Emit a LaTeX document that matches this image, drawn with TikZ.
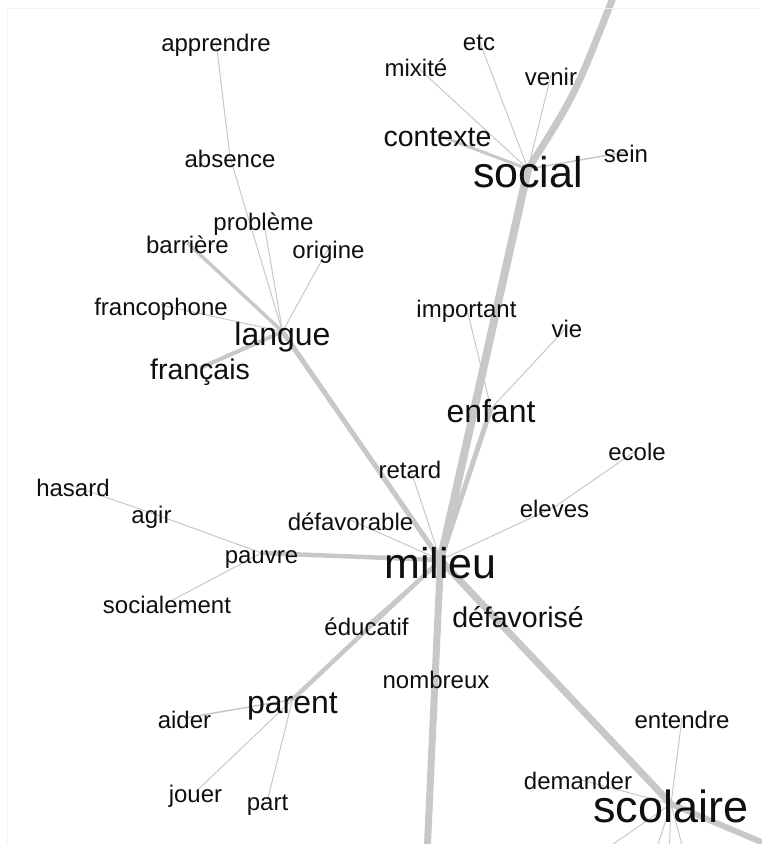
\documentclass[tikz,border=0pt]{standalone}
\usepackage{fontspec}
\setmainfont{Liberation Sans}
\usepackage{xcolor}
\usetikzlibrary{backgrounds}
\definecolor{edgegray}{RGB}{200, 200, 200}
\definecolor{framegray}{RGB}{243, 243, 243}
\definecolor{wordblack}{RGB}{15, 15, 15}

\begin{document}
\begin{tikzpicture}[x=1pt, y=-1pt,
    word/.style={inner sep=0pt, text=wordblack, font=\fontsize{#1}{#1}\selectfont,
        text height={0.9*#1pt}, text depth={0.06*#1pt}},
    wsmall/.style={word=24},
    wmid/.style={word=28.5},
    wbig/.style={word=32},
    whuge/.style={word=43},
    link/.style={draw=edgegray, line width=#1},
    link/.default=1pt]
    \useasboundingbox (0,0) rectangle (761,844);
    \clip (0,0) rectangle (761,844);

    % Frame
    \draw[framegray, line width=1pt] (7,844) -- (7,8) -- (761,8);

    % Langue cluster
    \node[wsmall] (apprendre) at (216,41) {apprendre};
    \node[wsmall] (absence) at (230,157) {absence};
    \node[wsmall] (probleme) at (263.5,220) {problème};
    \node[wsmall] (barriere) at (187.5,243) {barrière};
    \node[wsmall] (origine) at (328.5,248) {origine};
    \node[wsmall] (francophone) at (161,305) {francophone};
    \node[wbig] (langue) at (282.5,331.6) {langue};
    \node[wmid] (francais) at (200,368) {français};

    % Social cluster
    \node[wsmall] (etc) at (479,40) {etc};
    \node[wsmall] (mixite) at (416,66) {mixité};
    \node[wsmall] (venir) at (551,75) {venir};
    \node[wmid] (contexte) at (437.5,135) {contexte};
    \node[wsmall] (sein) at (626,152) {sein};
    \node[whuge] (social) at (528,169) {social};

    % Enfant cluster
    \node[wsmall] (important) at (466.5,307) {important};
    \node[wsmall] (vie) at (567,327) {vie};
    \node[wbig] (enfant) at (491,408.6) {enfant};

    % Milieu cluster
    \node[wsmall] (retard) at (410,468) {retard};
    \node[wsmall] (defavorable) at (350.5,520) {défavorable};
    \node[wsmall] (hasard) at (73,486) {hasard};
    \node[wsmall] (agir) at (151.5,513) {agir};
    \node[wsmall] (pauvre) at (261.5,553) {pauvre};
    \node[wsmall] (socialement) at (167,603) {socialement};
    \node[whuge] (milieu) at (440.5,560) {milieu};
    \node[wsmall] (educatif) at (366.5,625) {éducatif};
    \node[wsmall] (eleves) at (554.5,507) {eleves};
    \node[wsmall] (ecole) at (637,450) {ecole};
    \node[wmid] (defavorise) at (518,616) {défavorisé};
    \node[wsmall] (nombreux) at (436,678) {nombreux};

    % Parent cluster
    \node[wbig] (parent) at (292.5,699.6) {parent};
    \node[wsmall] (aider) at (184.5,718) {aider};
    \node[wsmall] (jouer) at (195.5,792) {jouer};
    \node[wsmall] (part) at (267.5,800) {part};

    % Scolaire cluster
    \node[wsmall] (entendre) at (682,718) {entendre};
    \node[wsmall] (demander) at (578,779) {demander};
    \node[word=45] (scolaire) at (671,804) {scolaire};

    % Ends outside the frame
    \coordinate (topend) at (614,-5);
    \coordinate (bottomend) at (427,855);
    \coordinate (rightend) at (785,852);
    \coordinate (sc1) at (590,860);
    \coordinate (sc2) at (653,860);
    \coordinate (sc3) at (669,860);
    \coordinate (sc4) at (686,860);

    \begin{scope}[on background layer]
        % Main trunks
        \draw[link=8pt] (milieu.center) -- (social.center);
        \draw[link=7pt] (social.center) .. controls (575,95) .. (topend);
        \draw[link=7pt] (milieu.center) -- (bottomend);
        \draw[link=7pt] (milieu.center) -- (scolaire.center);
        \draw[link=6pt] (scolaire.center) -- (rightend);
        \draw[link=5pt] (milieu.center) -- (langue.center);
        \draw[link=5pt] (milieu.center) -- (enfant.center);
        \draw[link=4.5pt] (milieu.center) -- (pauvre.center);
        \draw[link=4.5pt] (milieu.center) -- (parent.center);
        \draw[link=1.5pt] (milieu.center) -- (educatif.center);

        % Langue branches
        \draw[link] (apprendre.center) -- (absence.center) -- (langue.center);
        \draw[link] (probleme.center) -- (langue.center);
        \draw[link=3.5pt] (barriere.center) -- (langue.center);
        \draw[link] (origine.center) -- (langue.center);
        \draw[link] (francophone.center) -- (langue.center);
        \draw[link=4pt] (francais.center) -- (langue.center);

        % Social branches
        \draw[link] (etc.center) -- (social.center);
        \draw[link] (mixite.center) -- (social.center);
        \draw[link] (venir.center) -- (social.center);
        \draw[link=3pt] (contexte.center) -- (social.center);
        \draw[link=1.5pt] (sein.center) -- (social.center);

        % Enfant branches
        \draw[link] (important.center) -- (enfant.center);
        \draw[link] (vie.center) -- (enfant.center);

        % Milieu branches
        \draw[link] (retard.center) -- (milieu.center);
        \draw[link] (defavorable.center) -- (milieu.center);
        \draw[link] (ecole.center) -- (eleves.center) -- (milieu.center);
        \draw[link] (hasard.center) -- (agir.center) -- (pauvre.center);
        \draw[link] (socialement.center) -- (pauvre.center);

        % Parent branches
        \draw[link=1.5pt] (aider.center) -- (parent.center);
        \draw[link] (jouer.center) -- (parent.center);
        \draw[link] (part.center) -- (parent.center);

        % Scolaire branches
        \draw[link] (entendre.center) -- (scolaire.center);
        \draw[link] (demander.center) -- (scolaire.center);
        \foreach \e in {sc1, sc2, sc3, sc4}
            \draw[link] (scolaire.center) -- (\e);
    \end{scope}
\end{tikzpicture}
\end{document}
